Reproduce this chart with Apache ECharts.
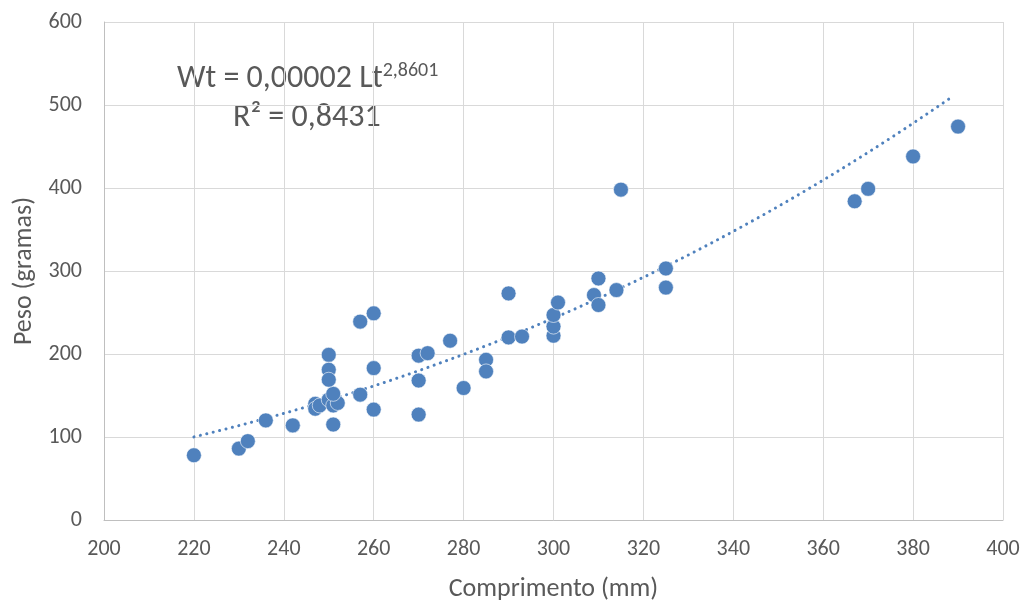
<!DOCTYPE html>
<html><head><meta charset="utf-8">
<script src="https://cdn.jsdelivr.net/npm/echarts@6/dist/echarts.min.js"></script>
<style>html,body{margin:0;padding:0;background:#fff}#c{width:1026px;height:607px}</style>
</head><body><div id="c"></div>
<script>
const comprimento = [220,230,232,236,242,242,247,247,248,250,251,252,251,250,250,250,251,257,257,260,260,260,270,272,277,270,270,280,285,285,290,290,293,300,300,300,301,309,310,310,314,315,325,325,367,370,380,390];
const peso =        [78, 86, 95, 120,114,114,140,134,138,145,138,141,152,199,181,169,115,151,239,249,183,133,198,201,216,168,127,159,193,179,273,220,221,222,233,247,262,271,291,259,277,398,303,280,384,399,438,474];
const xTicks = {min:200, max:400, interval:20};
const yTicks = {min:0, max:600, interval:100};
const trendA = 0.00002, trendB = 2.8601;
const trendRange = [220, 389];
const eqText = ['Wt = 0,00002 Lt', '2,8601', 'R² = 0,8431'];

const pts = comprimento.map((x,i)=>[x, peso[i]]);
const trend = [];
for (let x = trendRange[0]; x <= trendRange[1]; x += 1) trend.push([x, trendA*Math.pow(x, trendB)]);

const font = 'Carlito, Lato, "Liberation Sans", sans-serif';
const col = '#4f81bd';
const txt = '#595959';
const chart = echarts.init(document.getElementById('c'));
chart.setOption({
  animation:false,
  textStyle:{fontFamily:font},
  grid:{left:104, right:23, top:22, bottom:85},
  xAxis:{type:'value', min:xTicks.min, max:xTicks.max, interval:xTicks.interval,
    name:'Comprimento (mm)', nameLocation:'middle', nameGap:69,
    nameTextStyle:{fontSize:26, color:txt, fontFamily:font, verticalAlign:'middle'},
    axisLine:{lineStyle:{color:'#bfbfbf'}}, axisTick:{show:false},
    axisLabel:{fontSize:22, color:txt, margin:18, fontFamily:font},
    splitLine:{lineStyle:{color:'#d9d9d9', width:1}}},
  yAxis:{type:'value', min:yTicks.min, max:yTicks.max, interval:yTicks.interval,
    name:'Peso (gramas)', nameLocation:'middle', nameGap:79, nameRotate:90,
    nameTextStyle:{fontSize:26, color:txt, fontFamily:font, verticalAlign:'middle'},
    axisLine:{show:true, lineStyle:{color:'#bfbfbf'}}, axisTick:{show:false},
    axisLabel:{fontSize:22, color:txt, margin:22, fontFamily:font},
    splitLine:{lineStyle:{color:'#d9d9d9', width:1}}},
  series:[
    {type:'line', data:trend, showSymbol:false, symbol:'none', smooth:false,
      lineStyle:{color:col, width:3, type:[0.1,6.5], cap:'round'}, z:1},
    {type:'scatter', data:pts, symbolSize:15,
      itemStyle:{color:col, borderColor:'#ffffff', borderWidth:0.6, opacity:1}, z:2}
  ],
  graphic:[
    {type:'text', left:177, top:61, style:{
      rich:{a:{fontSize:32, fill:txt, fontFamily:font}, s:{fontSize:20, fill:txt, fontFamily:font, verticalAlign:'top', padding:[0,0,16,0]}},
      text:'{a|'+eqText[0]+'}{s|'+eqText[1]+'}'}},
    {type:'text', left:233, top:102, style:{text:eqText[2], fontSize:32, fill:txt, fontFamily:font}}
  ]
});
</script></body></html>
